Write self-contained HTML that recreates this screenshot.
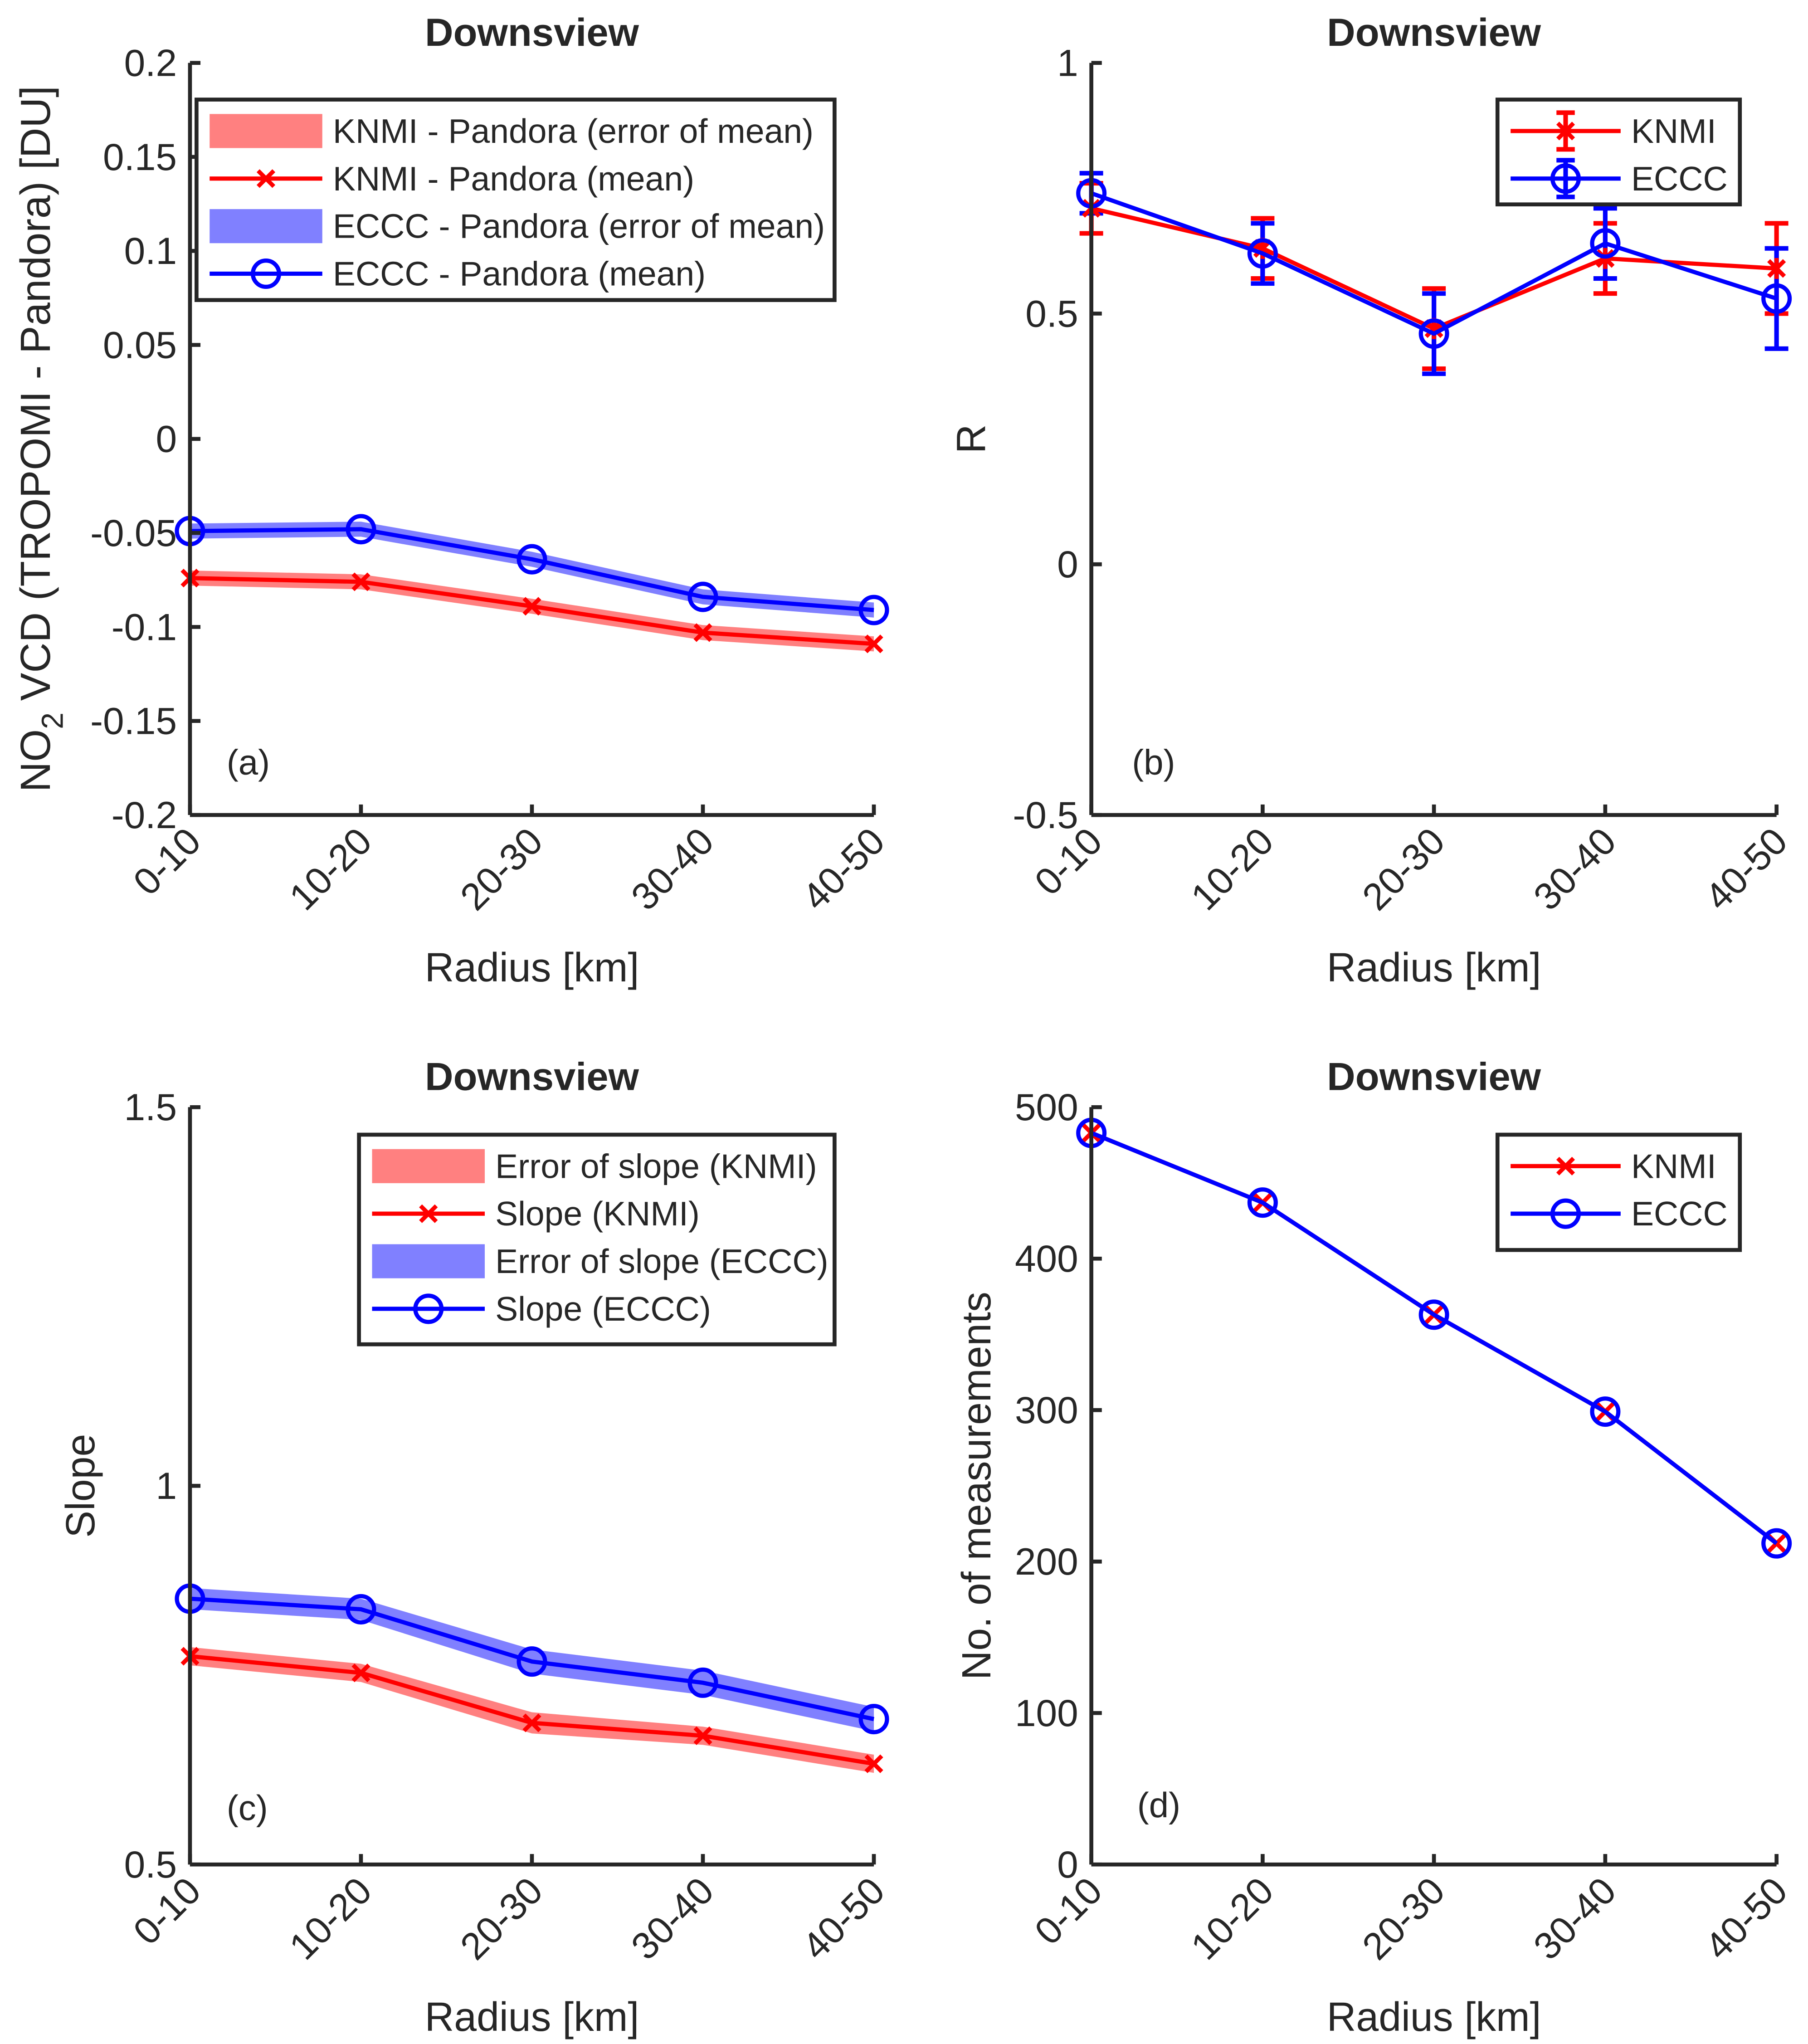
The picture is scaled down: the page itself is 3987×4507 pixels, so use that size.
<!DOCTYPE html>
<html><head><meta charset="utf-8">
<style>
html,body{margin:0;padding:0;background:#fff;}
svg{display:block;}
text{font-family:"Liberation Sans",Arial,sans-serif;fill:#262626;}
</style></head>
<body>
<svg id="fig" width="3987" height="4507" viewBox="0 0 1380 1560" xmlns="http://www.w3.org/2000/svg"></svg>
<script>
const categories = ["0-10","10-20","20-30","30-40","40-50"];
// (a)
const aKnmi = [-0.074,-0.076,-0.089,-0.103,-0.109];
const aEccc = [-0.049,-0.048,-0.064,-0.084,-0.091];
const aKnmiErr = [0.004,0.004,0.004,0.004,0.004];
const aEcccErr = [0.004,0.004,0.004,0.004,0.004];
const aTicks = [0.2,0.15,0.1,0.05,0,-0.05,-0.1,-0.15,-0.2];
const aTickLabels = ["0.2","0.15","0.1","0.05","0","-0.05","-0.1","-0.15","-0.2"];
// (b)
const bKnmi = [0.71,0.63,0.47,0.61,0.59];
const bKnmiErr = [0.05,0.06,0.08,0.07,0.09];
const bEccc = [0.74,0.62,0.46,0.64,0.53];
const bEcccErr = [0.04,0.06,0.08,0.07,0.10];
const bTicks = [1,0.5,0,-0.5];
const bTickLabels = ["1","0.5","0","-0.5"];
// (c)
const cKnmi = [0.775,0.753,0.687,0.670,0.633];
const cEccc = [0.851,0.837,0.768,0.740,0.692];
const cKnmiErr = [0.012,0.012,0.014,0.012,0.012];
const cEcccErr = [0.014,0.014,0.016,0.016,0.016];
const cTicks = [1.5,1,0.5];
const cTickLabels = ["1.5","1","0.5"];
// (d)
const dKnmi = [483,437,363,299,212];
const dEccc = [483,437,363,299,212];
const dTicks = [500,400,300,200,100,0];
const dTickLabels = ["500","400","300","200","100","0"];

const NS="http://www.w3.org/2000/svg";
const svg=document.getElementById('fig');
function mk(tag,attrs,parent,text){const e=document.createElementNS(NS,tag);for(const k in attrs)e.setAttribute(k,attrs[k]);if(text!==undefined)e.textContent=text;(parent||svg).appendChild(e);return e;}

const LW=3.2;
function panel(p){
  const g=mk('g',{});
  
  
  const xs=i=>p.x0+(p.x1-p.x0)*i/(categories.length-1);
  const ys=v=>p.y0+(p.y1-p.y0)*(p.ymax-v)/(p.ymax-p.ymin);
  const t=mk('text',{x:(p.x0+p.x1)/2,y:p.y0-13,'text-anchor':'middle','font-size':30,'font-weight':'bold',fill:'#000'},g,'Downsview');
  
  
  p.bands.forEach(b=>{
    let pts=[];b.v.forEach((v,i)=>pts.push(xs(i)+','+ys(v+b.e[i])));
    for(let i=b.v.length-1;i>=0;i--)pts.push(xs(i)+','+ys(b.v[i]-b.e[i]));
    const pg=mk('polygon',{points:pts.join(' '),fill:b.color,stroke:'none'},g);
    
    
  });
  p.errs.forEach(b=>{
    b.v.forEach((v,i)=>{
      const x=xs(i),yt=ys(v+b.e[i]),yb=ys(v-b.e[i]);
      const eg=mk('g',{stroke:b.color,'stroke-width':3.5},g);
      
      
      mk('line',{x1:x,x2:x,y1:yt,y2:yb},eg);
      mk('line',{x1:x-9,x2:x+9,y1:yt,y2:yt},eg);
      mk('line',{x1:x-9,x2:x+9,y1:yb,y2:yb},eg);
    });
  });
  p.lines.forEach(L=>{
    const pts=L.v.map((v,i)=>xs(i)+','+ys(v)).join(' ');
    const pl=mk('polyline',{points:pts,fill:'none',stroke:L.color,'stroke-width':LW},g);
    
    
    L.v.forEach((v,i)=>{
      const x=xs(i),y=ys(v);
      let m;
      if(L.marker==='x'){
        m=mk('path',{d:`M${x-6},${y-6}L${x+6},${y+6}M${x-6},${y+6}L${x+6},${y-6}`,stroke:L.color,'stroke-width':LW},g);
      }else if(L.marker==='star'){
        m=mk('path',{d:`M${x-6},${y-6}L${x+6},${y+6}M${x-6},${y+6}L${x+6},${y-6}M${x},${y-8}L${x},${y+8}`,stroke:L.color,'stroke-width':LW},g);
      }else{
        m=mk('circle',{cx:x,cy:y,r:p.circR||10,fill:'none',stroke:L.color,'stroke-width':LW},g);
      }
      
      
    });
  });
  const ax=mk('g',{stroke:'#262626','stroke-width':3,fill:'none'},g);
  
  
  mk('line',{x1:p.x0,x2:p.x0,y1:p.y0,y2:p.y1},ax);
  mk('line',{x1:p.x0,x2:p.x1,y1:p.y1,y2:p.y1},ax);
  p.ticks.forEach((v,i)=>{
    const y=ys(v);
    mk('line',{x1:p.x0,x2:p.x0+8,y1:y,y2:y},ax);
    const tl=mk('text',{x:p.x0-10,y:y+10,'text-anchor':'end','font-size':29},g,p.tickLabels[i]);
    
    
  });
  categories.forEach((c,i)=>{
    const x=xs(i);
    mk('line',{x1:x,x2:x,y1:p.y1,y2:p.y1-8},ax);
    const tl=mk('text',{x:x+10,y:p.y1+22,'text-anchor':'end','font-size':29,transform:`rotate(-45 ${x+10} ${p.y1+22})`},g,c);
    
    
  });
  const xl=mk('text',{x:(p.x0+p.x1)/2,y:p.y1+127,'text-anchor':'middle','font-size':31},g,'Radius [km]');
  
  
  const ym=(p.y0+p.y1)/2;
  const yl=mk('text',{x:p.ylx,y:ym,'text-anchor':'middle','font-size':p.ylfs||31,transform:`rotate(-90 ${p.ylx} ${ym})`},g);
  
  
  if(p.no2){
    mk('tspan',{},yl,'NO');
    mk('tspan',{dy:10,'font-size':23},yl,'2');
    mk('tspan',{dy:-10},yl,' VCD (TROPOMI - Pandora) [DU]');
  } else yl.textContent=p.ylabel;
  const pl=mk('text',{x:p.plx,y:p.ply,'font-size':27},g,p.plabel);
  
  
  const L=p.legend;
  const lg=mk('g',{},g);
  
  
  mk('rect',{x:L.x,y:L.y,width:L.w,height:L.h,fill:'#fff',stroke:'#262626','stroke-width':3},lg);
  L.items.forEach((it,k)=>{
    const y=L.y+24+k*36.3;
    const eg=mk('g',{},lg);
    
    
    const sx0=L.x+10,sx1=L.x+10+L.sw,cx=(sx0+sx1)/2;
    if(it.type==='band'){
      mk('rect',{x:sx0,y:y-13,width:L.sw,height:26,fill:it.color},eg);
    }else{
      mk('line',{x1:sx0,x2:sx1,y1:y,y2:y,stroke:it.color,'stroke-width':LW},eg);
      if(it.err){mk('path',{d:`M${cx},${y-14}L${cx},${y+14}M${cx-7},${y-14}L${cx+7},${y-14}M${cx-7},${y+14}L${cx+7},${y+14}`,stroke:it.color,'stroke-width':3.5,fill:'none'},eg);}
      if(it.marker==='x')mk('path',{d:`M${cx-6},${y-6}L${cx+6},${y+6}M${cx-6},${y+6}L${cx+6},${y-6}`,stroke:it.color,'stroke-width':LW},eg);
      else if(it.marker==='star')mk('path',{d:`M${cx-6},${y-6}L${cx+6},${y+6}M${cx-6},${y+6}L${cx+6},${y-6}`,stroke:it.color,'stroke-width':LW},eg);
      else mk('circle',{cx:cx,cy:y,r:10,fill:'none',stroke:it.color,'stroke-width':LW},eg);
    }
    mk('text',{x:sx1+8,y:y+9,'font-size':26,fill:'#000'},eg,it.label);
  });
}

const RED='#ff0000',BLUE='#0000ff',RB='#ff8080',BB='#8080ff';
panel({name:'panel-a',x0:145,x1:667,y0:48,y1:622,ymax:0.2,ymin:-0.2,ticks:aTicks,tickLabels:aTickLabels,no2:true,ylx:38,ylfs:32,
  plabel:'(a)',plx:173,ply:591,
  bands:[{name:'knmi-error-band',v:aKnmi,e:aKnmiErr,color:RB},{name:'eccc-error-band',v:aEccc,e:aEcccErr,color:BB}],
  errs:[],
  lines:[{name:'knmi-mean',v:aKnmi,color:RED,marker:'x'},{name:'eccc-mean',v:aEccc,color:BLUE,marker:'o'}],
  legend:{x:150,y:76,w:487,h:153,sw:86,items:[
    {type:'band',color:RB,label:'KNMI - Pandora (error of mean)'},
    {type:'line',color:RED,marker:'x',label:'KNMI - Pandora (mean)'},
    {type:'band',color:BB,label:'ECCC - Pandora (error of mean)'},
    {type:'line',color:BLUE,marker:'o',label:'ECCC - Pandora (mean)'}]}});
panel({name:'panel-b',x0:833,x1:1356,y0:48,y1:622,ymax:1,ymin:-0.5,ticks:bTicks,tickLabels:bTickLabels,ylabel:'R',ylx:752,
  plabel:'(b)',plx:864,ply:591,
  bands:[],
  errs:[{name:'knmi-error-bar',v:bKnmi,e:bKnmiErr,color:RED},{name:'eccc-error-bar',v:bEccc,e:bEcccErr,color:BLUE}],
  lines:[{name:'knmi-r',v:bKnmi,color:RED,marker:'star'},{name:'eccc-r',v:bEccc,color:BLUE,marker:'o'}],
  legend:{x:1143,y:76,w:185,h:80,sw:84,items:[
    {type:'line',color:RED,marker:'star',err:true,label:'KNMI'},
    {type:'line',color:BLUE,marker:'o',err:true,label:'ECCC'}]}});
panel({name:'panel-c',x0:145,x1:667,y0:845,y1:1423,ymax:1.5,ymin:0.5,ticks:cTicks,tickLabels:cTickLabels,ylabel:'Slope',ylx:72,
  plabel:'(c)',plx:173,ply:1389,
  bands:[{name:'knmi-slope-error-band',v:cKnmi,e:cKnmiErr,color:RB},{name:'eccc-slope-error-band',v:cEccc,e:cEcccErr,color:BB}],
  errs:[],
  lines:[{name:'knmi-slope',v:cKnmi,color:RED,marker:'x'},{name:'eccc-slope',v:cEccc,color:BLUE,marker:'o'}],
  legend:{x:274,y:866,w:363,h:160,sw:86,items:[
    {type:'band',color:RB,label:'Error of slope (KNMI)'},
    {type:'line',color:RED,marker:'x',label:'Slope (KNMI)'},
    {type:'band',color:BB,label:'Error of slope (ECCC)'},
    {type:'line',color:BLUE,marker:'o',label:'Slope (ECCC)'}]}});
panel({name:'panel-d',x0:833,x1:1356,y0:845,y1:1423,ymax:500,ymin:0,ticks:dTicks,tickLabels:dTickLabels,ylabel:'No. of measurements',ylx:756,
  plabel:'(d)',plx:868,ply:1387,
  bands:[],errs:[],
  lines:[{name:'knmi-count',v:dKnmi,color:RED,marker:'x'},{name:'eccc-count',v:dEccc,color:BLUE,marker:'o'}],
  legend:{x:1143,y:866,w:185,h:88,sw:84,items:[
    {type:'line',color:RED,marker:'x',label:'KNMI'},
    {type:'line',color:BLUE,marker:'o',label:'ECCC'}]}});
</script>
</body></html>
